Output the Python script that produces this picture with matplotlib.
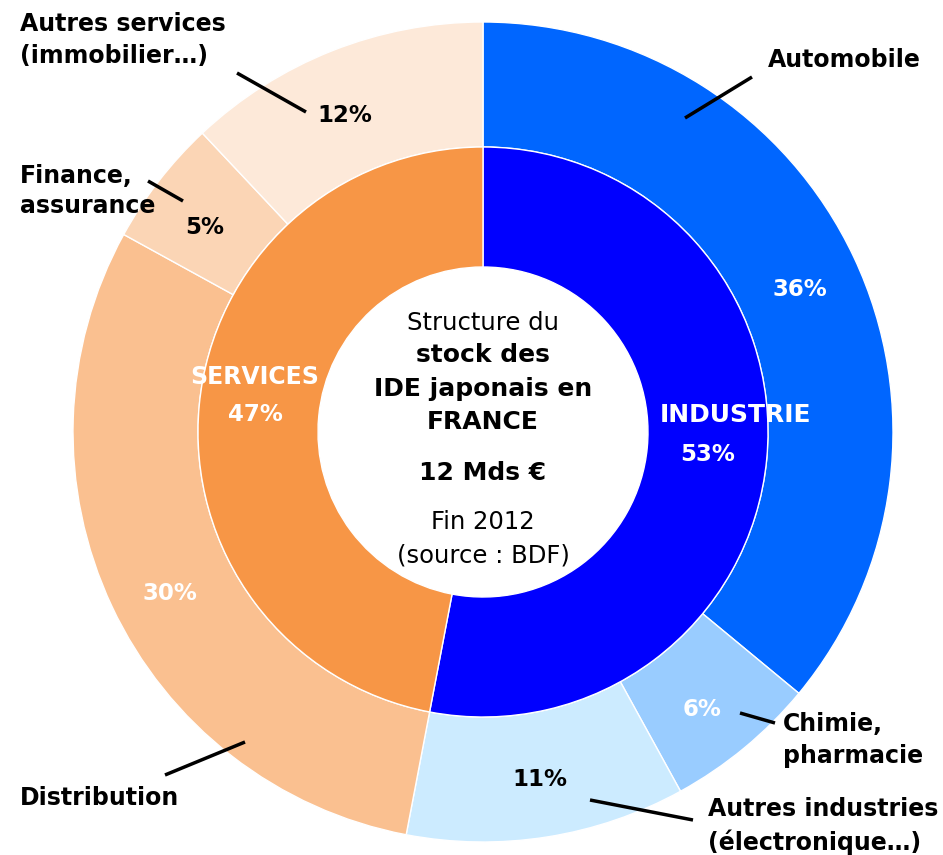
import matplotlib
matplotlib.use("Agg")
import matplotlib.pyplot as plt

# inner ring: sectors
sectors = ["INDUSTRIE", "SERVICES"]
sector_share = [53, 47]
sector_colors = ["#0000FF", "#F79646"]

# outer ring: branches (clockwise from top)
branches = ["Automobile", "Chimie,\npharmacie", "Autres industries\n(électronique…)",
            "Distribution", "Finance,\nassurance", "Autres services\n(immobilier…)"]
branch_share = [36, 6, 11, 30, 5, 12]
branch_colors = ["#0066FF", "#99CCFF", "#CCEBFF", "#FAC090", "#FBD5B5", "#FDE9D9"]

W, H = 943, 855
fig = plt.figure(figsize=(W / 100, H / 100), dpi=100)
ax = fig.add_axes([0, 0, 1, 1])

cx, cy = 483, H - 432
ax.pie(branch_share, colors=branch_colors, startangle=90, counterclock=False,
       radius=410, center=(cx, cy), frame=True,
       wedgeprops=dict(width=125, edgecolor="white", linewidth=1))
ax.pie(sector_share, colors=sector_colors, startangle=90, counterclock=False,
       radius=285, center=(cx, cy), frame=True,
       wedgeprops=dict(width=120, edgecolor="white", linewidth=1))
ax.set_xlim(0, W)
ax.set_ylim(0, H)
ax.set_aspect("equal")
ax.axis("off")


def txt(x, y, s, color="black", ha="center", size=16.5, weight="bold", ls=1.1):
    ax.text(x, H - y, s, color=color, ha=ha, va="center", fontsize=size,
            fontweight=weight, family="DejaVu Sans", linespacing=ls)


def leader(x0, y0, x1, y1):
    ax.plot([x0, x1], [H - y0, H - y1], color="black", lw=2.5, solid_capstyle="butt")


# percentages
txt(800, 290, f"{branch_share[0]}%", "white")
txt(702, 710, f"{branch_share[1]}%", "white")
txt(540, 780, f"{branch_share[2]}%")
txt(170, 593, f"{branch_share[3]}%", "white")
txt(205, 228, f"{branch_share[4]}%")
txt(345, 115, f"{branch_share[5]}%")
txt(735, 415, sectors[0], "white", size=18)
txt(708, 455, f"{sector_share[0]}%", "white")
txt(255, 377, sectors[1], "white", size=17)
txt(255, 415, f"{sector_share[1]}%", "white")

# branch names
txt(768, 60, branches[0], ha="left", size=17)
txt(783, 740, branches[1], ha="left", size=17, ls=1.4)
txt(708, 826, branches[2], ha="left", size=17, ls=1.4)
txt(20, 798, branches[3], ha="left", size=17)
txt(20, 191, branches[4], ha="left", size=17, ls=1.3)
txt(20, 40, branches[5], ha="left", size=17, ls=1.4)

leader(685, 118, 752, 77)
leader(740, 713, 775, 723)
leader(590, 800, 693, 820)
leader(165, 775, 245, 742)
leader(148, 181, 183, 201)
leader(237, 73, 306, 112)

# centre text
txt(483, 323, "Structure du", weight="normal", size=17.5)
txt(483, 355, "stock des", size=18)
txt(483, 389, "IDE japonais en", size=18)
txt(483, 422, "FRANCE", size=18)
txt(483, 473, "12 Mds €", size=18)
txt(483, 522, "Fin 2012", weight="normal", size=17.5)
txt(483, 556, "(source : BDF)", weight="normal", size=17.5)

fig.savefig("out.png", dpi=100)
